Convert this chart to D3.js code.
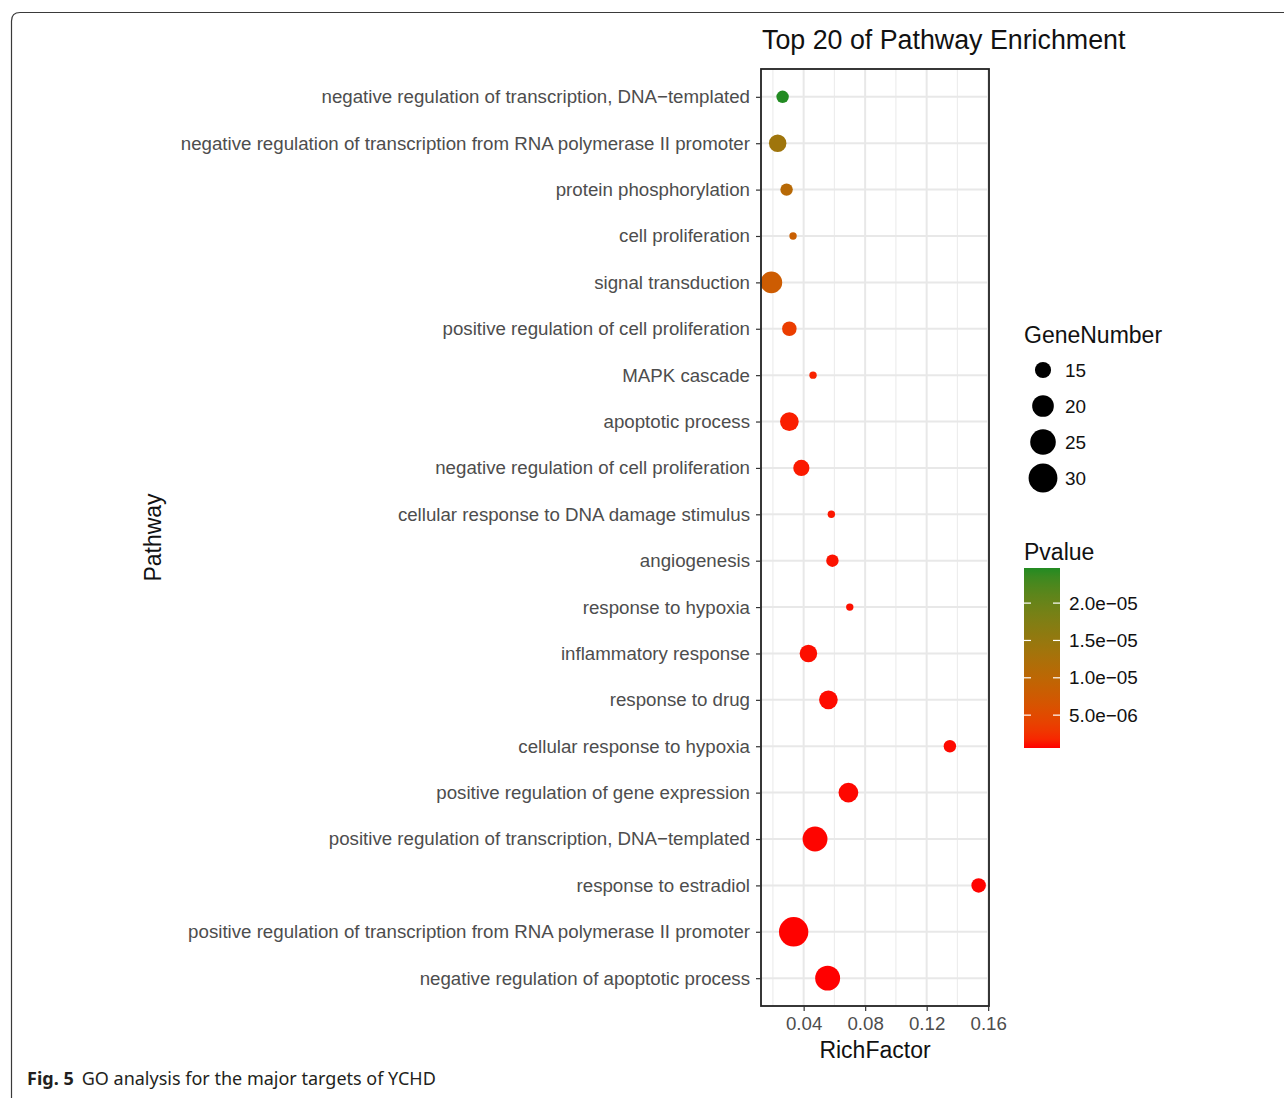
<!DOCTYPE html>
<html>
<head>
<meta charset="utf-8">
<script src="https://cdn.jsdelivr.net/npm/d3@7"></script>
<style>
  body { margin: 0; background: #fff; }
  svg { display: block; }
  .lab { font-family: "Liberation Sans", Arial, sans-serif; }
</style>
</head>
<body>
<script>
(function(){

	//pseudo-global variables
	var pathways = [
		"negative regulation of transcription, DNA\u2212templated",
		"negative regulation of transcription from RNA polymerase II promoter",
		"protein phosphorylation",
		"cell proliferation",
		"signal transduction",
		"positive regulation of cell proliferation",
		"MAPK cascade",
		"apoptotic process",
		"negative regulation of cell proliferation",
		"cellular response to DNA damage stimulus",
		"angiogenesis",
		"response to hypoxia",
		"inflammatory response",
		"response to drug",
		"cellular response to hypoxia",
		"positive regulation of gene expression",
		"positive regulation of transcription, DNA\u2212templated",
		"response to estradiol",
		"positive regulation of transcription from RNA polymerase II promoter",
		"negative regulation of apoptotic process"
	];
	var richFactor = [0.0263, 0.0231, 0.0289, 0.0331, 0.0190, 0.0307, 0.0461, 0.0307, 0.0385, 0.0580,
		0.0587, 0.0700, 0.0431, 0.0561, 0.1351, 0.0691, 0.0474, 0.1538, 0.0335, 0.0556];
	var geneNumber = [13, 16, 13, 12, 20, 14, 12, 17, 15, 12,
		13, 12, 16, 17, 13, 18, 24, 14, 31, 24];
	var pValue = [2.47e-5, 1.39e-5, 1.07e-5, 8.3e-6, 7.8e-6, 3.5e-6, 1.6e-6, 1.4e-6, 1.2e-6, 1.1e-6,
		9.8e-7, 9.0e-7, 8.5e-7, 8.0e-7, 7.6e-7, 7.2e-7, 6.9e-7, 6.6e-7, 6.3e-7, 6.0e-7];
	var xTicks = [0.04, 0.08, 0.12, 0.16];
	var xMinor = [0.02, 0.06, 0.10, 0.14];
	var sizeBreaks = [15, 20, 25, 30];
	var pBreaks = [5e-6, 1e-5, 1.5e-5, 2e-5];

	var width = 1284, height = 1098;
	var panel = {left: 761, right: 989, top: 69, bottom: 1006};
	var textGray = "#4d4d4d";

	var svg = d3.select("body").append("svg")
		.attr("width", width)
		.attr("height", height);

	//figure frame (rounded corner, runs off the page)
	svg.append("path")
		.attr("d", "M11.5,1110 L11.5,21 Q11.5,12.5 20,12.5 L1300,12.5")
		.attr("fill", "none")
		.attr("stroke", "#3a3a3a")
		.attr("stroke-width", 1.2);

	//scales
	var ext = d3.extent(richFactor), pad = (ext[1] - ext[0]) * 0.05;
	var x = d3.scaleLinear()
		.domain([ext[0] - pad, ext[1] + pad])
		.range([panel.left, panel.right]);

	var y = d3.scalePoint()
		.domain(pathways)
		.range([panel.top, panel.bottom])
		.padding(0.6);

	var nExt = d3.extent(geneNumber);
	var sizeT = d3.scaleLinear().domain(nExt).range([0, 1]);
	var rScale = d3.scaleLinear().domain([0, 1]).range([3.7, 14.7]);
	function radius(n){ return rScale(Math.sqrt(Math.max(0, sizeT(n)))); }

	var pExt = d3.extent(pValue);
	var color = d3.scaleLinear()
		.domain(pExt)
		.range(["#FF0000", "#228B22"])
		.interpolate(d3.interpolateLab);

	//panel background + grid
	var g = svg.append("g");
	g.append("rect")
		.attr("x", panel.left).attr("y", panel.top)
		.attr("width", panel.right - panel.left)
		.attr("height", panel.bottom - panel.top)
		.attr("fill", "#fff");

	g.selectAll(".minor")
		.data(xMinor)
		.enter()
		.append("line")
		.attr("class", "minor")
		.attr("x1", function(d){ return x(d); })
		.attr("x2", function(d){ return x(d); })
		.attr("y1", panel.top).attr("y2", panel.bottom)
		.attr("stroke", "#ededed").attr("stroke-width", 1.2);

	g.selectAll(".vmajor")
		.data(xTicks)
		.enter()
		.append("line")
		.attr("class", "vmajor")
		.attr("x1", function(d){ return x(d); })
		.attr("x2", function(d){ return x(d); })
		.attr("y1", panel.top).attr("y2", panel.bottom)
		.attr("stroke", "#e8e8e8").attr("stroke-width", 2);

	g.selectAll(".hmajor")
		.data(pathways)
		.enter()
		.append("line")
		.attr("class", "hmajor")
		.attr("x1", panel.left).attr("x2", panel.right)
		.attr("y1", function(d){ return y(d); })
		.attr("y2", function(d){ return y(d); })
		.attr("stroke", "#e8e8e8").attr("stroke-width", 2);

	//points
	var rows = pathways.map(function(p, i){
		return {name: p, rf: richFactor[i], n: geneNumber[i], p: pValue[i]};
	});
	g.selectAll(".dot")
		.data(rows)
		.enter()
		.append("circle")
		.attr("class", "dot")
		.attr("cx", function(d){ return x(d.rf); })
		.attr("cy", function(d){ return y(d.name); })
		.attr("r", function(d){ return radius(d.n); })
		.attr("fill", function(d){ return color(d.p); });

	//panel border
	g.append("rect")
		.attr("x", panel.left).attr("y", panel.top)
		.attr("width", panel.right - panel.left)
		.attr("height", panel.bottom - panel.top)
		.attr("fill", "none")
		.attr("stroke", "#222").attr("stroke-width", 1.8);

	//axes
	var yAxis = d3.axisLeft(y).tickSize(5).tickPadding(6);
	var ya = svg.append("g")
		.attr("transform", "translate(" + panel.left + ",0)")
		.call(yAxis);
	ya.select(".domain").remove();
	ya.selectAll("line").attr("stroke", "#333").attr("stroke-width", 1.2);
	ya.selectAll("text")
		.attr("class", "lab")
		.style("font-size", "18.7px")
		.attr("fill", textGray);

	var xAxis = d3.axisBottom(x).tickValues(xTicks).tickSize(5).tickPadding(6)
		.tickFormat(d3.format(".2f"));
	var xa = svg.append("g")
		.attr("transform", "translate(0," + panel.bottom + ")")
		.call(xAxis);
	xa.select(".domain").remove();
	xa.selectAll("line").attr("stroke", "#333").attr("stroke-width", 1.2);
	xa.selectAll("text")
		.attr("class", "lab")
		.style("font-size", "18.7px")
		.attr("fill", textGray);

	//titles
	svg.append("text")
		.attr("class", "lab")
		.attr("x", panel.left + 1).attr("y", 49)
		.style("font-size", "26.8px")
		.attr("fill", "#111")
		.text("Top 20 of Pathway Enrichment");

	svg.append("text")
		.attr("class", "lab")
		.attr("x", (panel.left + panel.right) / 2).attr("y", 1058)
		.attr("text-anchor", "middle")
		.style("font-size", "23px")
		.attr("fill", "#111")
		.text("RichFactor");

	svg.append("text")
		.attr("class", "lab")
		.attr("transform", "translate(161," + ((panel.top + panel.bottom) / 2) + ") rotate(-90)")
		.attr("text-anchor", "middle")
		.style("font-size", "23px")
		.attr("fill", "#111")
		.text("Pathway");

	//size legend
	var legX = 1024;
	svg.append("text")
		.attr("class", "lab")
		.attr("x", legX).attr("y", 343)
		.style("font-size", "23px")
		.attr("fill", "#111")
		.text("GeneNumber");

	var sizeY = d3.scalePoint().domain(sizeBreaks).range([370, 478]);
	var sl = svg.selectAll(".sleg")
		.data(sizeBreaks)
		.enter()
		.append("g")
		.attr("class", "sleg")
		.attr("transform", function(d){ return "translate(0," + sizeY(d) + ")"; });
	sl.append("circle")
		.attr("cx", 1043)
		.attr("r", function(d){ return radius(d); })
		.attr("fill", "#000");
	sl.append("text")
		.attr("class", "lab")
		.attr("x", 1065).attr("dy", "0.35em")
		.style("font-size", "18.9px")
		.attr("fill", "#111")
		.text(function(d){ return d; });

	//colour legend
	svg.append("text")
		.attr("class", "lab")
		.attr("x", legX).attr("y", 560)
		.style("font-size", "23px")
		.attr("fill", "#111")
		.text("Pvalue");

	var barTop = 568, barBottom = 748, barW = 36;
	var grad = svg.append("defs").append("linearGradient")
		.attr("id", "pgrad")
		.attr("x1", 0).attr("y1", 1).attr("x2", 0).attr("y2", 0);
	d3.range(0, 1.0001, 0.05).forEach(function(t){
		grad.append("stop")
			.attr("offset", t)
			.attr("stop-color", color(pExt[0] + t * (pExt[1] - pExt[0])));
	});
	svg.append("rect")
		.attr("x", legX).attr("y", barTop)
		.attr("width", barW).attr("height", barBottom - barTop)
		.attr("fill", "url(#pgrad)");

	var pY = d3.scaleLinear().domain(pExt).range([barBottom, barTop]);
	var pl = svg.selectAll(".pleg")
		.data(pBreaks)
		.enter()
		.append("g")
		.attr("class", "pleg")
		.attr("transform", function(d){ return "translate(0," + pY(d) + ")"; });
	pl.append("line")
		.attr("x1", legX).attr("x2", legX + 7)
		.attr("stroke", "#fff").attr("stroke-width", 1.2);
	pl.append("line")
		.attr("x1", legX + barW - 7).attr("x2", legX + barW)
		.attr("stroke", "#fff").attr("stroke-width", 1.2);
	pl.append("text")
		.attr("class", "lab")
		.attr("x", 1069).attr("dy", "0.35em")
		.style("font-size", "18.9px")
		.attr("fill", "#111")
		.text(function(d){ return d3.format(".1e")(d).replace("e-", "e\u22120"); });

	//caption
	var cap = svg.append("text")
		.attr("x", 27).attr("y", 1085)
		.style("font-family", "'Noto Sans', 'Open Sans', sans-serif")
		.style("font-size", "18px")
		.attr("fill", "#231f20");
	cap.append("tspan").style("font-weight", "bold").text("Fig. 5");
	cap.append("tspan").attr("dx", 8).text("GO analysis for the major targets of YCHD");

})();
</script>
</body>
</html>
